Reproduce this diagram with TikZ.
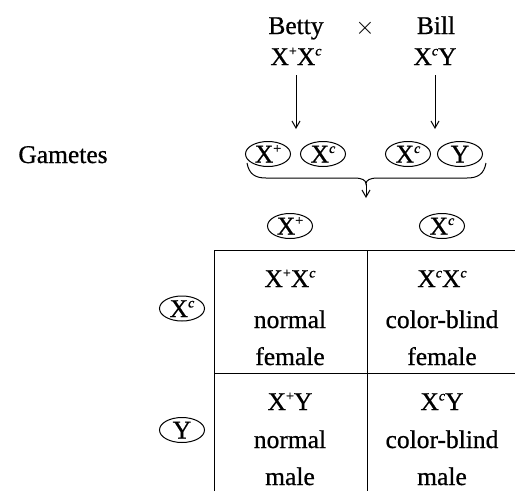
\documentclass[tikz,border=0pt]{standalone}
\usepackage{fontspec}
\setmainfont{Liberation Serif}[FakeBold=0.6]
\newfontfamily\heavy{Liberation Serif}[FakeBold=0.7]
\usetikzlibrary{shapes,arrows.meta,positioning}

\newcommand{\gsup}[1]{\raisebox{9.5pt}{\fontsize{14}{14}\selectfont #1}}
\newcommand{\xplus}{X\gsup{+}}
\newcommand{\xcol}{X\gsup{\itshape c}}

\begin{document}
\begin{tikzpicture}[x=1pt, y=-1pt,
  font=\heavy\fontsize{25.5}{37}\selectfont,
  txt/.style={anchor=base, inner sep=0pt},
  gamete/.style={draw, ellipse, line width=1pt, inner sep=0pt,
    minimum width=45pt, minimum height=25pt, text height=17pt, text depth=0pt},
  sqline/.style={line width=1pt},
  link/.style={-{Straight Barb[length=7pt,width=8pt]}, line width=1pt}]

\useasboundingbox (0,0) rectangle (515,491);

% Parents
\node[txt] (betty) at (296,34) {Betty};
\node[txt, font=\fontsize{27}{27}\selectfont] (cross) at (365,34) {$\times$};
\node[txt] (bill) at (436,34) {Bill};
\node[txt] (bettygeno) at (296,65) {\xplus\xcol};
\node[txt] (billgeno) at (435,65) {\xcol Y};

% Gametes of each parent
\node[txt] (gametes) at (63,163) {Gametes};
\node[gamete] (gam1) at (268,154) {\xplus};
\node[gamete] (gam2) at (323,154) {\xcol};
\node[gamete] (gam3) at (408,154) {\xcol};
\node[gamete] (gam4) at (460,154) {Y};

\coordinate (bettyto) at (296,129);
\coordinate (billto) at (435,129);
\draw[link, shorten <=10pt] (bettygeno.south) -- (bettyto);
\draw[link, shorten <=10pt] (billgeno.south) -- (billto);

% Brace under the gametes
\draw[line width=1pt] (247,163) .. controls (249,174) and (255,178) .. (266,178)
  -- (354,178) .. controls (362,178) and (366,180) .. (366,184) coordinate (bracetip)
  .. controls (366,180) and (370,178) .. (378,178)
  -- (467,178) .. controls (478,178) and (484,174) .. (486,163);
\coordinate (mixto) at (366,198);
\draw[link] (bracetip) -- (mixto);

% Eggs on top, sperm at the side
\node[gamete] (egg1) at (290,226) {\xplus};
\node[gamete] (egg2) at (442,226) {\xcol};
\node[gamete] (sperm1) at (182,308.5) {\xcol};
\node[gamete] (sperm2) at (182,430) {Y};

% Punnett square
\draw[sqline] (214,491) -- (214,250) -- (515,250);
\draw[sqline] (367,250) -- (367,491);
\draw[sqline] (214,373) -- (515,373);

% top row
\node[txt] (geno11) at (290,287) {\xplus\xcol};
\node[txt] (kind11) at (290,328) {normal};
\node[txt] (sex11) at (290,365) {female};
\node[txt] (geno12) at (442,287) {\xcol\xcol};
\node[txt] (kind12) at (442,328) {color-blind};
\node[txt] (sex12) at (442,365) {female};

% bottom row
\node[txt] (geno21) at (290,410) {\xplus Y};
\node[txt] (kind21) at (290,448) {normal};
\node[txt] (sex21) at (290,485) {male};
\node[txt] (geno22) at (442,410) {\xcol Y};
\node[txt] (kind22) at (442,448) {color-blind};
\node[txt] (sex22) at (442,485) {male};

\end{tikzpicture}
\end{document}
